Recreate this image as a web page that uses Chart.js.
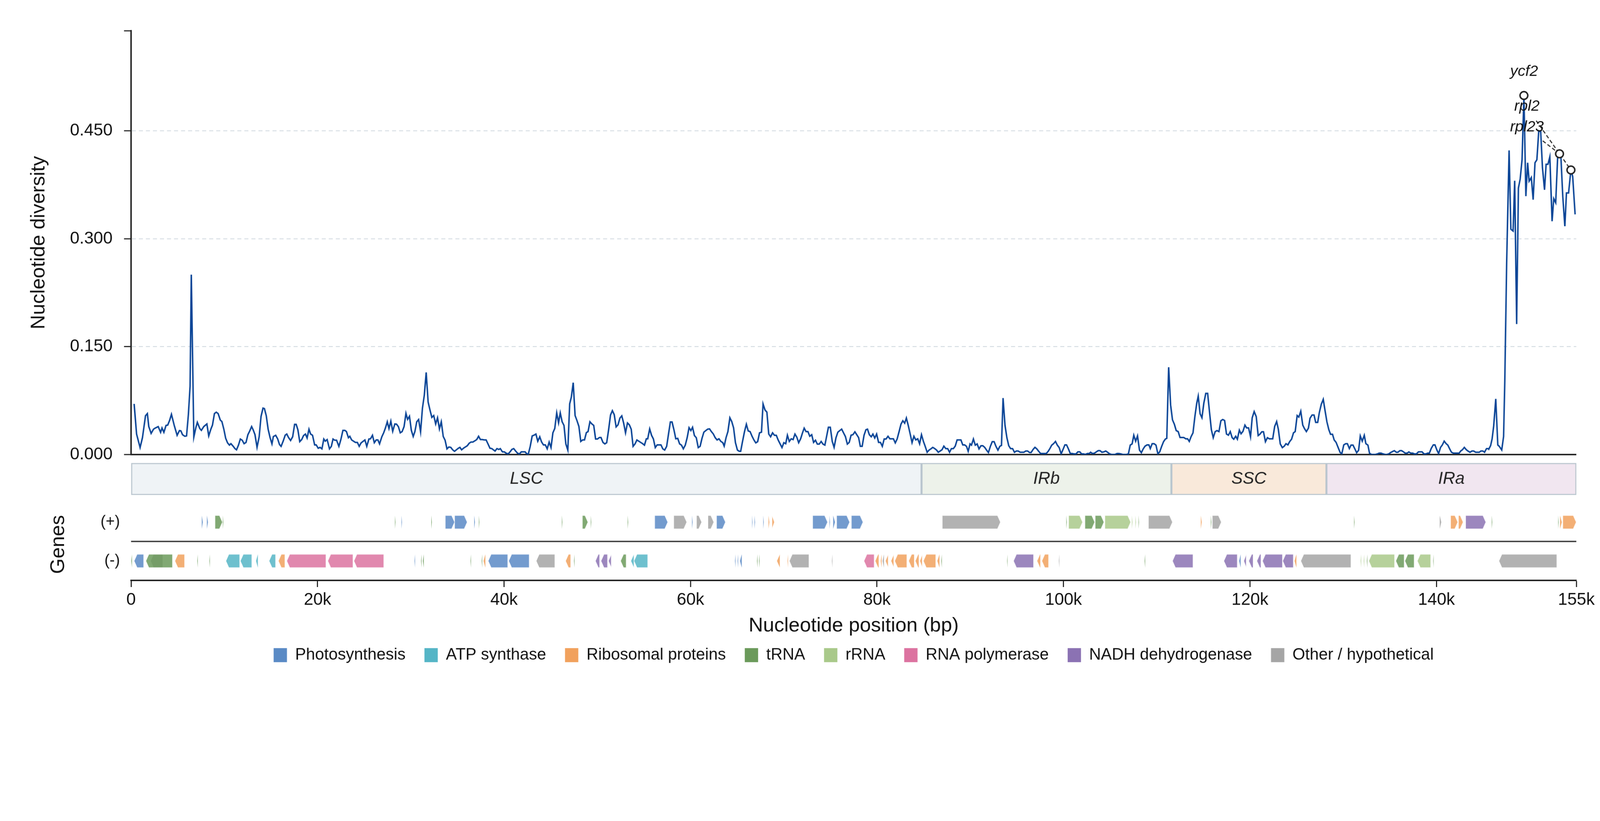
<!DOCTYPE html>
<html>
<head>
<meta charset="utf-8">
<script src="https://cdn.jsdelivr.net/npm/chart.js@4.4.1/dist/chart.umd.min.js"></script>
<style>
html, body { margin: 0; padding: 0; background: #fff; overflow: hidden; }
#chart { display: block; }
</style>
</head>
<body>
<canvas id="chart" width="4322" height="2102" style="width:100vw;height:48.635vw"></canvas>
<script>
// sliding-window nucleotide diversity: [position (kb), pi]
const WINDOWS = [
  [0.33,.0705],[0.59,.0286],[0.97,.0098],[1.22,.0235],[1.55,.054],[1.75,.057],[1.90,.039],[2.15,.0295],[2.41,.0354],[2.61,.037],
  [2.91,.039],[3.17,.031],[3.32,.037],[3.52,.031],[3.75,.0406],[3.93,.041],[4.13,.0474],[4.33,.056],[4.63,.0406],[4.94,.0269],
  [5.19,.0334],[5.34,.033],[5.52,.0277],[5.77,.0255],[5.95,.026],[6.15,.056],[6.33,.095],[6.46,.25],[6.73,.0243],[6.96,.038],
  [7.11,.0449],[7.37,.0363],[7.54,.0337],[7.80,.039],[8.13,.0426],[8.33,.026],[8.56,.0354],[8.73,.041],[8.94,.057],[9.14,.059],
  [9.34,.057],[9.57,.048],[9.74,.046],[9.95,.0354],[10.15,.0226],[10.35,.0163],[10.55,.0132],[10.71,.0152],[10.96,.0115],[11.14,.0084],
  [11.31,.0067],[11.52,.0132],[11.72,.0217],[11.92,.02],[12.12,.0152],[12.33,.017],[12.53,.0277],[12.73,.033],[12.93,.039],[13.11,.034],
  [13.29,.0277],[13.51,.0101],[13.74,.025],[13.94,.053],[14.15,.0646],[14.30,.064],[14.50,.054],[14.70,.0354],[14.91,.0235],[15.11,.0149],
  [15.26,.025],[15.51,.0269],[15.72,.022],[15.92,.014],[16.09,.0115],[16.32,.019],[16.53,.027],[16.70,.0286],[16.90,.0235],[17.11,.0197],
  [17.33,.0248],[17.54,.042],[17.71,.042],[17.89,.0346],[18.09,.018],[18.30,.0209],[18.50,.0265],[18.70,.0286],[18.88,.0231],[19.08,.0354],
  [19.26,.0286],[19.46,.0269],[19.69,.0135],[19.86,.0135],[20.07,.0089],[20.27,.0101],[20.47,.008],[20.67,.0217],[20.83,.0187],[21.03,.0209],
  [21.28,.008],[21.48,.0115],[21.66,.0217],[21.84,.02],[22.04,.02],[22.29,.0115],[22.50,.0209],[22.72,.0337],[22.93,.0337],[23.10,.032],
  [23.31,.0235],[23.46,.0255],[23.66,.0204],[23.86,.0187],[24.06,.017],[24.27,.017],[24.47,.0115],[24.67,.0163],[24.87,.0183],[25.08,.0204],
  [25.28,.0115],[25.51,.0217],[25.68,.022],[25.89,.0269],[26.09,.0166],[26.29,.0204],[26.47,.0204],[26.65,.0149],[26.90,.025],[27.10,.0306],
  [27.28,.037],[27.48,.0457],[27.66,.0363],[27.86,.0466],[28.06,.0324],[28.29,.0426],[28.47,.0423],[28.67,.0389],[28.87,.0303],[29.07,.032],
  [29.28,.0389],[29.48,.0574],[29.66,.049],[29.86,.0534],[30.06,.0337],[30.26,.0252],[30.44,.032],[30.64,.0457],[30.84,.0488],[31.05,.0317],
  [31.25,.0646],[31.45,.0825],[31.65,.1142],[31.86,.0731],[32.06,.062],[32.26,.0517],[32.46,.0543],[32.67,.0426],[32.87,.0512],[33.07,.0358],
  [33.27,.0457],[33.48,.0252],[33.68,.02],[33.88,.008],[34.08,.0106],[34.29,.0101],[34.49,.0067],[34.69,.0046],[34.89,.0067],[35.10,.0089],
  [35.27,.0101],[35.45,.0067],[35.65,.0089],[35.85,.0106],[36.06,.0123],[36.26,.0158],[36.46,.0175],[36.66,.0175],[36.87,.0192],[37.07,.0209],
  [37.27,.0255],[37.47,.0209],[37.68,.0209],[37.88,.0204],[38.08,.0204],[38.28,.0149],[38.49,.0089],[38.69,.0084],[38.89,.0063],[39.04,.005],
  [39.24,.0084],[39.45,.0072],[39.60,.0084],
  [39.83,.0038],[40.03,.0038],[40.23,.002],[40.44,.001],[40.64,.0038],[40.84,.0072],[41.04,.0084],[41.24,.005],[41.45,.002],[41.65,.001],
  [41.85,.0038],[42.05,.0038],[42.26,.0038],[42.46,.001],[42.61,.001],[42.81,.0115],[43.02,.026],[43.22,.027],[43.42,.0286],[43.62,.0187],
  [43.83,.0248],[44.03,.0175],[44.23,.0135],[44.43,.0135],[44.63,.008],[44.84,.0175],[45.04,.0098],[45.24,.0303],[45.44,.0363],[45.65,.058],
  [45.85,.0443],[46.03,.058],[46.23,.0457],[46.43,.0406],[46.63,.0149],[46.84,.0063],[47.04,.0705],[47.22,.08],[47.42,.1],[47.62,.0543],
  [47.82,.0474],[48.03,.0392],[48.23,.0183],[48.43,.0204],[48.63,.0204],[48.83,.0306],[49.01,.032],[49.21,.0457],[49.42,.0426],[49.62,.0406],
  [49.82,.0217],[50.02,.0217],[50.23,.0238],[50.40,.0238],[50.61,.017],[50.81,.0149],[51.01,.0166],[51.21,.034],[51.42,.0551],[51.62,.0611],
  [51.82,.0556],[52.02,.0385],[52.22,.0414],[52.43,.0508],[52.63,.0539],[52.83,.0437],[53.03,.0303],[53.24,.044],[53.44,.0414],[53.64,.0354],
  [53.84,.0115],[54.05,.0149],[54.25,.0204],[54.45,.0187],[54.65,.017],[54.86,.0152],[55.06,.0132],[55.26,.022],[55.41,.022],[55.62,.0358],
  [55.82,.0269],[56.02,.0217],[56.22,.0098],[56.42,.0135],[56.63,.0135],[56.83,.0135],[57.03,.008],[57.23,.0063],[57.44,.0115],[57.64,.0286],
  [57.84,.0454],[58.02,.0454],[58.22,.0346],[58.42,.022],[58.63,.0226],[58.83,.0149],[59.03,.0132],[59.23,.008],[59.44,.0132],[59.64,.0235],
  [59.84,.0375],[60.04,.0334],[60.22,.038],[60.42,.0265],[60.62,.0235],[60.83,.0098],[61.03,.0115],[61.23,.0226],[61.43,.0312],[61.64,.0334],
  [61.84,.0354],[62.04,.0358],[62.24,.032],[62.45,.0286],[62.65,.0235],[62.85,.0204],[63.05,.022],[63.26,.0183],[63.46,.0166],[63.61,.0118],
  [63.81,.0235],[64.01,.032],[64.22,.0512],[64.42,.046],[64.62,.0372],[64.82,.0166],[65.03,.0063],[65.23,.0046],[65.38,.0046],[65.58,.0183],
  [65.79,.032],[65.99,.0423],[66.19,.0329],[66.39,.032],[66.60,.0255],[66.80,.0204],[67.00,.0163],[67.20,.018],[67.40,.0303],[67.61,.0312],
  [67.78,.0705],[67.99,.062],[68.19,.0591],[68.39,.0286],[68.59,.0248],[68.80,.0303],[69.00,.0269],[69.20,.0269],[69.40,.0204],[69.61,.0149],
  [69.81,.0098],[70.01,.0166],[70.21,.0152],[70.39,.027],[70.59,.0183],[70.80,.022],[71.00,.0209],[71.20,.0286],[71.40,.0243],[71.60,.0166],
  [71.81,.022],[72.01,.0303],[72.19,.0368],[72.39,.032],[72.59,.032],[72.79,.0255],[73.00,.0276],[73.20,.017],[73.40,.02],[73.60,.0146],
  [73.81,.0146],[74.01,.0183],[74.21,.0146],[74.41,.0132],[74.62,.0269],[74.79,.038],[74.99,.038],[75.20,.0183],[75.40,.0101],[75.60,.0235],
  [75.80,.0312],[76.01,.0334],[76.21,.0354],[76.41,.0303],[76.61,.0252],[76.82,.0146],[77.02,.017],[77.22,.027],[77.42,.0277],[77.63,.0317],
  [77.83,.0277],[78.03,.0235],[78.21,.0115],[78.41,.0115],[78.61,.0269],[78.81,.0346],
  [78.98,.0354],[79.18,.0277],[79.38,.0248],[79.56,.0286],[79.76,.0231],[79.96,.0286],[80.17,.017],[80.37,.017],[80.57,.0115],[80.77,.0217],
  [80.97,.0217],[81.18,.0255],[81.38,.022],[81.58,.022],[81.76,.022],[81.96,.0163],[82.16,.0217],[82.37,.032],[82.57,.0423],[82.77,.0471],
  [82.97,.0437],[83.15,.0508],[83.35,.0406],[83.56,.0286],[83.76,.0166],[83.96,.0255],[84.16,.0204],[84.37,.022],[84.57,.0149],[84.77,.0277],
  [84.97,.0187],[85.17,.0115],[85.38,.0033],[85.58,.0063],[85.78,.008],[85.98,.0101],[86.19,.0084],[86.39,.0063],[86.57,.0033],[86.77,.005],
  [86.97,.0067],[87.17,.0118],[87.38,.0084],[87.58,.0084],[87.78,.0033],[87.98,.0084],[88.19,.0084],[88.39,.0118],[88.59,.0204],[88.79,.0204],
  [89.00,.0204],[89.20,.0135],[89.40,.0135],[89.60,.0115],[89.78,.0046],[89.98,.0149],[90.13,.0132],[90.34,.0217],[90.54,.0132],[90.74,.0149],
  [90.94,.008],[91.15,.0123],[91.35,.0123],[91.55,.0101],[91.75,.0063],[91.95,.0029],[92.16,.0115],[92.36,.018],[92.56,.018],[92.76,.0115],
  [92.97,.0063],[93.17,.0115],[93.35,.0128],[93.52,.0786],[93.73,.0406],[93.93,.0235],[94.13,.0123],[94.33,.0084],[94.54,.0084],[94.74,.0033],
  [94.94,.005],[95.14,.005],[95.35,.0033],[95.55,.0033],[95.75,.0033],[95.95,.005],[96.15,.005],[96.36,.0029],[96.53,.0029],[96.74,.0072],
  [96.94,.0101],[97.14,.008],[97.34,.0046],[97.55,.0015],[97.75,.0015],[97.95,.0015],[98.15,.0015],[98.36,.0046],[98.56,.0089],[98.74,.0132],
  [98.94,.0152],[99.14,.0183],[99.34,.0132],[99.54,.0098],[99.75,.001],[99.95,.0072],[100.15,.0135],[100.33,.0135],[100.53,.008],[100.73,.0015],
  [100.94,.0015],[101.14,.001],[101.34,.001],[101.54,.0038],[101.75,.0038],[101.95,.001],[102.15,.001],[102.35,.0003],[102.56,.0015],[102.76,.0015],
  [102.91,.0033],[103.11,.0015],[103.31,.002],[103.52,.0038],[103.72,.0055],[103.92,.0055],[104.12,.0033],[104.33,.0038],[104.53,.005],[104.73,.0033],
  [104.93,.0012],[105.14,.0003],[105.34,.0003],[105.54,.0003],[105.74,.0015],[105.95,.0015],[106.15,.001],[106.35,.0003],[106.55,.0003],[106.76,.0003],
  [106.96,.001],[107.16,.0132],[107.36,.0149],[107.54,.0269],[107.74,.0187],[107.94,.026],[108.15,.0063],[108.35,.0026],[108.55,.008],[108.75,.0118],
  [108.96,.0135],[109.16,.0135],[109.31,.0084],[109.51,.0152],[109.72,.0152],[109.92,.0132],[110.12,.0012],[110.32,.0038],[110.53,.0115],[110.73,.018],
  [110.93,.0217],[111.08,.0226],[111.28,.1214],[111.49,.0688],[111.69,.0483],[111.89,.0423],[112.09,.0334],[112.30,.032],[112.50,.0238],[112.70,.0238],
  [112.90,.0238],[113.11,.022],[113.31,.022],[113.49,.0183],[113.69,.0252],[113.89,.0303],[114.09,.0526],[114.29,.0714],[114.45,.0812],[114.65,.0568],
  [114.85,.0512],[115.05,.0714],[115.26,.0851],[115.46,.0851],[115.66,.0594],[115.86,.0346],[116.06,.0235],[116.27,.032],[116.47,.0334],[116.67,.032],
  [116.88,.0471],[117.08,.0488],[117.28,.0474],[117.48,.0286],[117.69,.027],[117.89,.032],[118.09,.0235],
  [118.26,.0214],[118.47,.0255],[118.65,.0214],[118.86,.034],[119.04,.0289],[119.25,.0324],[119.46,.041],[119.64,.0372],[119.85,.0372],[120.06,.0248],
  [120.24,.0512],[120.45,.0598],[120.67,.0529],[120.88,.0265],[121.06,.0283],[121.27,.0317],[121.45,.0317],[121.66,.018],[121.87,.0235],[122.08,.022],
  [122.26,.022],[122.44,.022],[122.65,.0392],[122.86,.046],[123.04,.0354],[123.25,.0149],[123.47,.0098],[123.68,.0118],[123.86,.0152],[124.07,.0135],
  [124.25,.018],[124.46,.0214],[124.67,.0303],[124.85,.032],[125.06,.0543],[125.24,.0522],[125.45,.0603],[125.66,.041],[125.84,.0363],[126.05,.032],
  [126.27,.0368],[126.44,.0505],[126.66,.055],[126.87,.055],[127.05,.0447],[127.26,.0447],[127.44,.0586],[127.65,.07],[127.86,.0769],[128.04,.062],
  [128.25,.0457],[128.46,.0346],[128.64,.0283],[128.85,.0283],[129.03,.0204],[129.24,.017],[129.46,.0098],[129.67,.0029],[129.85,.0012],[130.06,.0135],
  [130.27,.0152],[130.45,.0152],[130.66,.0084],[130.84,.0132],[131.05,.0132],[131.26,.0077],[131.44,.0026],[131.65,.006],[131.83,.026],[132.04,.0187],
  [132.26,.0269],[132.43,.0152],[132.65,.0132],[132.82,.002],[133.03,.0003],[133.25,.0003],[133.46,.0003],[133.67,.001],[133.85,.002],[134.06,.002],
  [134.28,.001],[134.49,.0003],[134.70,.0003],[134.88,.001],[135.09,.0029],[135.30,.0043],[135.48,.0055],[135.69,.0033],[135.87,.0033],[136.08,.0055],
  [136.26,.0055],[136.47,.0038],[136.65,.002],[136.86,.002],[137.04,.0038],[137.25,.002],[137.46,.002],[137.64,.001],[137.85,.001],[138.07,.0038],
  [138.24,.0038],[138.46,.0038],[138.67,.001],[138.85,.001],[139.06,.002],[139.24,.002],[139.45,.0089],[139.66,.0135],[139.84,.0135],[140.05,.0063],
  [140.23,.0015],[140.44,.0101],[140.62,.0132],[140.83,.0187],[141.04,.0152],[141.22,.0132],[141.43,.0077],[141.61,.0033],[141.82,.002],[142.04,.002],
  [142.21,.002],[142.43,.002],[142.60,.005],[142.78,.0067],[142.99,.0101],[143.21,.0067],[143.38,.005],[143.60,.0033],[143.81,.005],[143.99,.005],
  [144.20,.0033],[144.38,.0033],[144.59,.0033],[144.77,.005],[144.98,.005],[145.16,.0033],[145.37,.0084],[145.55,.0084],
  [145.61,.0075],[145.81,.0126],[145.97,.0219],[146.14,.040],[146.36,.0775],[146.58,.0133],[146.73,.0116],[147.00,.0065],[147.20,.0253],[147.33,.1022],
  [147.53,.2662],[147.79,.4227],[147.98,.3133],[148.22,.3106],[148.39,.3806],[148.60,.1814],[148.79,.3704],[148.98,.383],[149.18,.4097],[149.38,.499],
  [149.59,.3591],[149.78,.4056],[149.94,.38],[150.17,.385],[150.37,.3543],[150.57,.4056],[150.77,.4097],[150.97,.45],[151.18,.449],[151.37,.3987],
  [151.59,.368],[151.76,.4035],[151.96,.4035],[152.16,.4138],[152.40,.3243],[152.58,.3557],[152.79,.35],[153.00,.414],[153.20,.418],[153.35,.413],
  [153.55,.3584],[153.77,.3174],[153.94,.3636],[154.17,.3636],[154.42,.3955],[154.61,.3864],[154.87,.3338]
];

const CATEGORIES = ['Photosynthesis', 'ATP synthase', 'Ribosomal proteins', 'tRNA', 'rRNA',
  'RNA polymerase', 'NADH dehydrogenase', 'Other / hypothetical'];
const CAT_COLORS = ['#5a8ac5', '#55b5c6', '#f1a15d', '#6b9a5b', '#a9c98a', '#dc73a0', '#8b72b3', '#a5a5a5'];

// genes: [start kb, end kb, category index]
const PLUS_GENES = [
  [7.58,7.70,0],[8.13,8.25,0],[9.00,9.80,3],[9.84,9.90,3],[28.30,28.36,3],[29.00,29.06,0],[32.20,32.26,3],
  [33.70,34.70,0],[34.70,36.05,0],[36.80,36.88,0],[37.30,37.36,3],[46.20,46.26,3],[48.40,49.00,3],[49.30,49.36,3],
  [53.26,53.32,3],[56.16,57.56,0],[58.20,59.60,7],[60.16,60.23,0],[60.64,61.20,7],[61.87,62.50,7],[62.79,63.75,0],
  [66.60,66.65,0],[66.86,66.92,0],[67.80,67.86,0],[68.36,68.46,2],[68.74,69.00,2],[73.10,74.70,0],[74.90,74.96,0],
  [75.30,75.50,0],[75.67,77.07,0],[77.25,78.50,0],[87.00,93.24,7],[100.30,100.36,3],[100.55,102.05,4],[102.30,103.35,3],
  [103.40,104.34,3],[104.44,107.21,4],[107.34,107.40,4],[107.71,107.77,4],[108.05,108.10,3],[109.11,111.69,7],
  [114.73,114.83,2],[115.80,115.86,3],[115.96,116.93,7],[131.16,131.22,3],[140.35,140.52,7],[141.52,142.29,2],
  [142.36,142.86,2],[143.13,145.30,6],[145.93,145.99,3],[153.05,153.10,3],[153.25,153.45,2],[153.55,154.99,2]
];
const MINUS_GENES = [
  [0.00,0.10,3],[0.33,1.35,0],[1.59,4.44,3],[2.09,3.40,7],[4.70,5.74,2],[7.10,7.16,3],[8.40,8.46,3],
  [10.17,11.65,1],[11.72,12.95,1],[13.40,13.60,1],[14.80,15.50,1],[15.80,16.50,2],[16.70,20.90,5],[21.10,23.80,5],
  [23.90,27.10,5],[30.40,30.46,0],[31.10,31.16,3],[31.30,31.40,3],[36.40,36.46,3],[37.60,37.66,3],[37.80,38.00,2],
  [38.30,40.40,0],[40.50,42.70,0],[43.45,45.45,7],[46.60,47.15,2],[47.50,47.56,3],[49.80,50.25,6],[50.40,51.10,6],
  [51.20,51.50,6],[52.50,53.10,3],[53.60,53.94,1],[53.94,55.41,1],[64.77,64.83,0],[65.05,65.11,0],[65.30,65.50,0],
  [67.13,67.19,3],[67.34,67.40,3],[69.25,69.60,2],[70.40,70.46,2],[70.60,72.70,7],[75.16,75.22,7],[78.60,79.70,5],
  [79.80,80.20,2],[80.40,80.50,2],[80.60,80.75,7],[80.90,81.20,2],[81.50,81.80,2],[81.90,83.20,2],[83.40,84.00,2],
  [84.10,84.50,2],[84.60,84.85,2],[84.97,86.30,2],[86.47,86.70,2],[86.90,86.96,3],[93.95,94.00,3],[94.64,96.79,6],
  [97.16,97.54,2],[97.68,98.40,2],[99.50,99.56,7],[108.70,108.76,3],[111.69,113.89,6],[117.20,118.64,6],[118.84,119.00,0],
  [119.34,119.60,6],[119.87,120.34,6],[120.74,121.18,6],[121.34,123.48,6],[123.51,124.65,6],[124.78,124.98,2],
  [125.45,130.83,7],[131.87,131.93,4],[132.20,132.26,4],[132.53,132.59,3],[132.74,135.51,4],[135.64,136.54,3],
  [136.61,137.61,3],[137.95,139.38,4],[139.65,139.70,3],[146.70,152.91,7]
];

const REGION_NAMES = ['LSC', 'IRb', 'SSC', 'IRa'];
const REGION_BOUNDS_KB = [0, 84.775, 111.574, 128.2, 155];
const REGION_FILLS = ['#eff3f6', '#edf2ea', '#f9e9da', '#f1e6f0'];

const X_TICKS_KB = [0, 20, 40, 60, 80, 100, 120, 140, 155];
const Y_TICKS = [0, 0.15, 0.30, 0.45];
const Y_MAX = 0.589;

// labelled peaks
const PEAK_GENES = ['ycf2', 'rpl2', 'rpl23'];
const PEAK_KB = [149.38, 154.42, 153.2];
const PEAK_PI = [0.499, 0.3955, 0.418];
const LABEL_KB = [149.4, 149.7, 149.7];
const LABEL_PI = [0.532, 0.484, 0.455];
const LEADER_KB = [null, 150.7, 151.4];
const LEADER_PI = [null, 0.464, 0.436];

Chart.defaults.font.family = '"Liberation Sans", Arial, sans-serif';
Chart.defaults.color = '#111';

const bp = kb => Math.round(kb * 1000);
// rows on the lower track axes
const TRACK = { region: 1.356, plus: 0.753, sep: 1.835, minus: 2.918 };

const geneSets = CATEGORIES.map((name, c) => ({
  type: 'bar',
  label: name,
  isGene: true,
  solid: CAT_COLORS[c],
  indexAxis: 'y',
  xAxisID: 'x',
  yAxisID: 'yGenes',
  grouped: false,
  barThickness: 36,
  backgroundColor: CAT_COLORS[c] + 'd9',
  data: PLUS_GENES.filter(g => g[2] === c).map(g => ({ x: [bp(g[0]), bp(g[1])], y: TRACK.plus, strand: 1 }))
    .concat(MINUS_GENES.filter(g => g[2] === c).map(g => ({ x: [bp(g[0]), bp(g[1])], y: TRACK.minus, strand: -1 })))
}));

const regionSet = {
  type: 'bar',
  label: 'regions',
  isRegion: true,
  indexAxis: 'y',
  xAxisID: 'x',
  yAxisID: 'yReg',
  grouped: false,
  barThickness: 86,
  backgroundColor: REGION_FILLS,
  borderColor: '#b9c5ce',
  borderWidth: 3,
  borderSkipped: false,
  data: REGION_NAMES.map((n, i) => ({ x: [bp(REGION_BOUNDS_KB[i]), bp(REGION_BOUNDS_KB[i + 1])], y: TRACK.region }))
};

const lineSet = {
  type: 'line',
  label: 'pi',
  xAxisID: 'x',
  yAxisID: 'y',
  data: WINDOWS.map(w => ({ x: bp(w[0]), y: w[1] })),
  borderColor: '#0b4597',
  borderWidth: 4,
  pointRadius: 0,
  tension: 0,
  fill: false
};

const peakSet = {
  type: 'line',
  label: 'peaks',
  showLine: false,
  xAxisID: 'x',
  yAxisID: 'y',
  data: PEAK_KB.map((k, i) => ({ x: bp(k), y: PEAK_PI[i] })),
  pointRadius: 10.5,
  pointBorderWidth: 4,
  pointBackgroundColor: '#ffffff',
  pointBorderColor: '#222222'
};

const trackPainter = {
  id: 'trackPainter',
  beforeDatasetsDraw(chart) {
    const { ctx, scales: { x, y } } = chart;
    ctx.save();
    ctx.strokeStyle = '#333';
    ctx.lineWidth = 3;
    ctx.setLineDash([10, 6]);
    PEAK_GENES.forEach((g, i) => {
      if (LEADER_KB[i] === null) return;
      ctx.beginPath();
      ctx.moveTo(x.getPixelForValue(bp(LEADER_KB[i])), y.getPixelForValue(LEADER_PI[i]));
      ctx.lineTo(x.getPixelForValue(bp(PEAK_KB[i])), y.getPixelForValue(PEAK_PI[i]));
      ctx.stroke();
    });
    ctx.restore();
  },
  beforeDatasetDraw(chart, args) {
    const ds = chart.data.datasets[args.index];
    if (!ds.isGene) return;
    const ctx = chart.ctx;
    ctx.save();
    ctx.fillStyle = ds.backgroundColor;
    ctx.strokeStyle = 'rgba(255,255,255,0.75)';
    ctx.lineWidth = 1.5;
    args.meta.data.forEach((el, i) => {
      const p = el.getProps(['x', 'y', 'base', 'height'], true);
      const x0 = Math.min(p.x, p.base), x1 = Math.max(p.x, p.base);
      const w = Math.max(x1 - x0, 1.2);
      const h2 = p.height / 2, head = Math.min(8, w);
      const yc = p.y;
      ctx.beginPath();
      if (ds.data[i].strand > 0) {
        ctx.moveTo(x0, yc - h2); ctx.lineTo(x0 + w - head, yc - h2); ctx.lineTo(x0 + w, yc);
        ctx.lineTo(x0 + w - head, yc + h2); ctx.lineTo(x0, yc + h2);
      } else {
        ctx.moveTo(x0 + w, yc - h2); ctx.lineTo(x0 + head, yc - h2); ctx.lineTo(x0, yc);
        ctx.lineTo(x0 + head, yc + h2); ctx.lineTo(x0 + w, yc + h2);
      }
      ctx.closePath();
      ctx.fill();
      if (w > 6) ctx.stroke();
    });
    ctx.restore();
    return false;
  },
  afterDatasetsDraw(chart) {
    const { ctx, scales: { x, y } } = chart;
    ctx.save();
    ctx.textAlign = 'center';
    ctx.textBaseline = 'middle';
    ctx.fillStyle = '#222';
    ctx.font = 'italic 46px "Liberation Sans", Arial, sans-serif';
    const regIdx = chart.data.datasets.findIndex(d => d.isRegion);
    chart.getDatasetMeta(regIdx).data.forEach((el, i) => {
      ctx.fillText(REGION_NAMES[i], (el.x + el.base) / 2, el.y);
    });
    ctx.fillStyle = '#111';
    ctx.font = 'italic 41px "Liberation Sans", Arial, sans-serif';
    PEAK_GENES.forEach((g, i) => {
      ctx.fillText(g, x.getPixelForValue(bp(LABEL_KB[i])), y.getPixelForValue(LABEL_PI[i]));
    });
    ctx.restore();
  }
};

const leftWidth = s => { s.width = 354; };

new Chart(document.getElementById('chart'), {
  type: 'line',
  data: { datasets: [peakSet, lineSet].concat(geneSets, [regionSet]) },
  plugins: [trackPainter],
  options: {
    responsive: false,
    devicePixelRatio: 1,
    animation: false,
    events: [],
    layout: { padding: { top: 83, right: 64, bottom: 300, left: 0 } },
    plugins: {
      tooltip: { enabled: false },
      legend: {
        position: 'bottom',
        fullSize: false,
        labels: {
          boxWidth: 36,
          boxHeight: 38,
          padding: 51,
          color: '#111',
          font: { size: 44 },
          filter: (item, data) => !!data.datasets[item.datasetIndex].isGene,
          generateLabels: chart => Chart.defaults.plugins.legend.labels.generateLabels(chart).map(item =>
            Object.assign(item, { fillStyle: chart.data.datasets[item.datasetIndex].solid, strokeStyle: 'rgba(0,0,0,0)', lineWidth: 0 }))
        }
      }
    },
    scales: {
      x: {
        type: 'linear',
        position: 'bottom',
        min: 0,
        max: 155000,
        offset: false,
        afterBuildTicks: s => { s.ticks = X_TICKS_KB.map(k => ({ value: k * 1000 })); },
        ticks: {
          autoSkip: false,
          maxRotation: 0,
          padding: 8,
          color: '#111',
          font: { size: 46 },
          callback: v => v === 0 ? '0' : (v / 1000) + 'k'
        },
        grid: { drawOnChartArea: false, drawTicks: true, tickLength: 18, tickWidth: 3, tickColor: '#222' },
        border: { display: true, color: '#222', width: 4 },
        title: { display: true, text: 'Nucleotide position (bp)', color: '#111', font: { size: 54 }, padding: { top: 2, bottom: -27 } }
      },
      y: {
        type: 'linear',
        position: 'left',
        stack: 'panel',
        stackWeight: 1146,
        weight: 3,
        min: 0,
        max: Y_MAX,
        afterBuildTicks: s => { s.ticks = Y_TICKS.concat([Y_MAX]).map(v => ({ value: v })); },
        afterFit: leftWidth,
        ticks: { padding: 31, color: '#111', font: { size: 46 }, callback: v => v === Y_MAX ? '' : v.toFixed(3) },
        grid: {
          color: c => c.index === 0 ? '#222' : (c.tick && c.tick.value === Y_MAX ? 'rgba(0,0,0,0)' : '#d6dde3'),
          lineWidth: c => c.index === 0 ? 4 : 2.5,
          tickLength: 19,
          tickWidth: 3,
          tickColor: '#222'
        },
        border: { display: true, color: '#222', width: 4, dash: c => (c.type === 'tick' && c.index > 0) ? [11, 8] : [] },
        title: { display: true, text: 'Nucleotide diversity', color: '#111', font: { size: 54 }, padding: { top: 73, bottom: 0 } }
      },
      yReg: {
        type: 'linear',
        position: 'left',
        stack: 'panel',
        stackWeight: 146,
        weight: 2,
        min: 0,
        max: 3,
        reverse: true,
        offset: false,
        afterFit: leftWidth,
        ticks: { display: false },
        grid: { display: false, offset: false },
        border: { display: false }
      },
      yGenes: {
        type: 'linear',
        position: 'left',
        stack: 'panel',
        stackWeight: 194,
        weight: 1,
        min: 0,
        max: 4,
        reverse: true,
        offset: false,
        afterBuildTicks: s => { s.ticks = [TRACK.plus, TRACK.sep, TRACK.minus].map(v => ({ value: v })); },
        afterFit: leftWidth,
        ticks: { padding: 30, color: '#111', font: { size: 42 }, callback: (v, i) => ['(+)', '', '(-)'][i] },
        grid: { offset: false, drawTicks: false, color: c => c.index === 1 ? '#333' : 'rgba(0,0,0,0)', lineWidth: 3.5 },
        border: { display: false },
        title: { display: true, text: 'Genes', color: '#111', font: { size: 54 }, padding: { top: 126, bottom: 0 } }
      }
    }
  }
});
</script>
</body>
</html>
